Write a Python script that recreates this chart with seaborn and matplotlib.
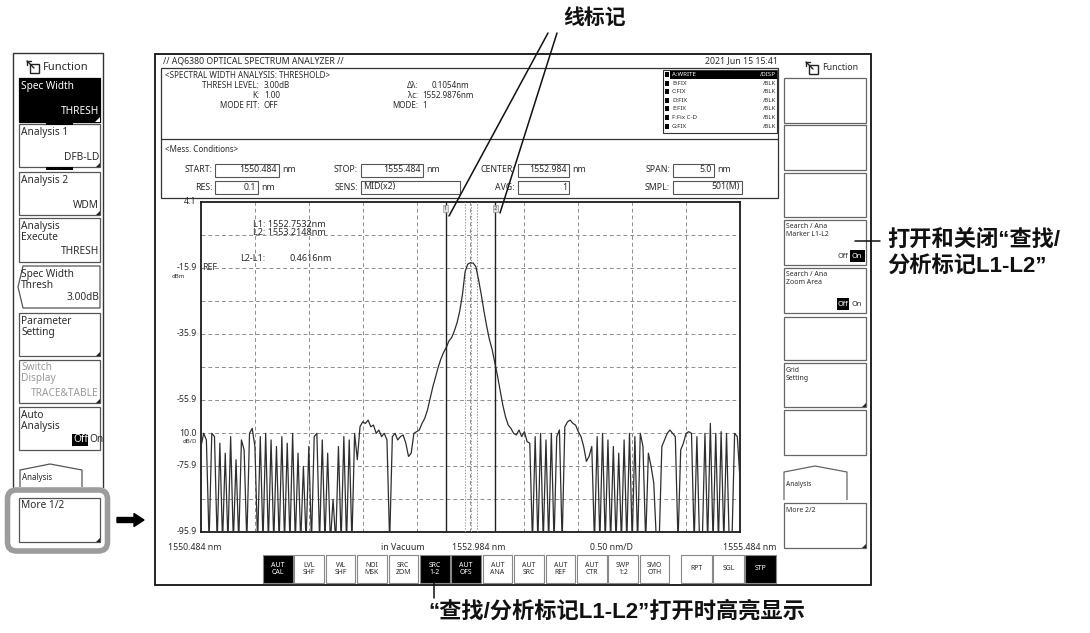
import numpy as np
import pandas as pd
import seaborn as sns
import matplotlib.pyplot as plt
from matplotlib.patches import Rectangle, Polygon, FancyBboxPatch, FancyArrow

sns.set_style("white")
plt.rcParams['font.family'] = ['Noto Sans', 'DejaVu Sans']
CJK = ['Liberation Sans', 'Noto Sans CJK SC', 'DejaVu Sans']

# ---- trace data (0.025 nm sampling) ----
wl_start = 1550.484
wl_stop = 1555.484
level_dbm = [
    -70, -66, -68, -99, -66, -67, -99, -69, -99, -72,
    -99, -67, -99, -74, -99, -68, -71, -99, -66, -64.5,
    -70, -99, -67, -99, -66, -99, -68, -99, -70, -99,
    -67, -99, -69, -99, -66, -99, -72, -99, -76, -99,
    -70, -99, -67, -66, -99, -68, -99, -72, -99, -86,
    -99, -70, -99, -67, -99, -68, -99, -66, -74, -64,
    -62.5, -63, -62, -64, -63.5, -66, -65, -67, -66, -68,
    -99, -67, -66, -68, -67, -66.5, -69, -73, -72, -66,
    -65.5, -65, -63, -61.5, -59, -55.5, -52, -49, -46, -43.5,
    -41.5, -40, -38, -37, -35, -32.5, -29, -24, -17, -14.7,
    -14.3, -14.4, -15.5, -19.5, -24, -29, -33.5, -37.5, -40.5, -44.5,
    -48.5, -53, -57.5, -61, -63.5, -64.5, -66, -66.5, -65, -67,
    -65.5, -68.5, -69, -99, -67, -99, -66, -99, -68, -99,
    -66, -99, -67, -65, -99, -64, -62.5, -62, -63, -63.5,
    -65.5, -67, -70, -74.5, -73, -70, -99, -67, -99, -66,
    -99, -68, -99, -70, -99, -72, -99, -68, -99, -66,
    -99, -67, -99, -66, -70, -99, -72, -76, -81, -99,
    -99, -70, -68, -66, -65, -66, -67, -99, -71, -69,
    -66, -65.5, -66, -99, -67, -99, -99, -66, -99, -63,
    -99, -66, -99, -65.5, -99, -66, -99, -99, -66, -67,
    -80,
]
top_level = 4.1
bottom_level = -95.9
y_labels = [4.1, -15.9, -35.9, -55.9, -75.9, -95.9]
ref_level = -15.9
l1_nm = 1552.7532
l2_nm = 1553.2148
peak_nm = 1552.9876
width_nm = 0.1054

left_keys = ["Spec Width", "Analysis 1", "Analysis 2", "Analysis\nExecute",
             "Spec Width\nThresh", "Parameter\nSetting", "Switch\nDisplay",
             "Auto\nAnalysis", "More 1/2"]
left_values = ["THRESH", "DFB-LD", "WDM", "THRESH", "3.00dB", "", "TRACE&TABLE", "", ""]
right_keys = ["", "", "", "Search / Ana\nMarker L1-L2", "Search / Ana\nZoom Area",
              "", "Grid\nSetting", "", "More 2/2"]
bottom_keys = ["AUT\nCAL", "LVL\nSHF", "WL\nSHF", "NOI\nMSK", "SRC\nZOM", "SRC\n1-2",
               "AUT\nOFS", "AUT\nANA", "AUT\nSRC", "AUT\nREF", "AUT\nCTR", "SWP\n1:2",
               "SMO\nOTH"]
bottom_on = ["AUT\nCAL", "SRC\n1-2", "AUT\nOFS"]
sweep_keys = ["RPT", "SGL", "STP"]
trace_rows = [("A:WRITE", "/DISP"), ("B:FIX", "/BLK"), ("C:FIX", "/BLK"), ("D:FIX", "/BLK"),
              ("E:FIX", "/BLK"), ("F:Fix C-D", "/BLK"), ("G:FIX", "/BLK")]

wl = np.linspace(wl_start, wl_stop, len(level_dbm))
df = pd.DataFrame({"wl": wl, "level": level_dbm})

fig = plt.figure(figsize=(10.9, 6.33), dpi=100)
ui = fig.add_axes([0, 0, 1, 1])
ui.set_xlim(0, 1090)
ui.set_ylim(633, 0)
ui.axis('off')
ui.set_zorder(3)

TXT = '#2b2b2b'


def rect(x0, y0, x1, y1, fc='white', ec='#555', lw=0.9, z=2):
    ui.add_patch(Rectangle((x0, y0), x1 - x0, y1 - y0, facecolor=fc, edgecolor=ec, linewidth=lw, zorder=z))


def txt(x, y, s, size=6, ha='left', color=TXT, **kw):
    ui.text(x, y, s, fontsize=size, ha=ha, va='center', color=color, zorder=5, **kw)


def corner(x1, y1, s=4, color='#222'):
    ui.add_patch(Polygon([(x1 - s, y1), (x1, y1), (x1, y1 - s)], closed=True, color=color, lw=0, zorder=4))


def func_header(x, y, size):
    ui.add_patch(Rectangle((x + 3, y - 3), 9, 9, fill=False, ec='#222', lw=1.0, zorder=4))
    ui.plot([x, x + 7], [y - 6, y + 1], color='#222', lw=1.0, zorder=4)
    ui.plot([x, x + 3.5], [y - 6, y - 6], color='#222', lw=1.0, zorder=4)
    ui.plot([x, x], [y - 6, y - 2.5], color='#222', lw=1.0, zorder=4)
    txt(x + 16, y, "Function", size=size)


# ---------------- left soft-key panel ----------------
ui.plot([13, 13, 103, 103], [487, 53, 53, 487], color='#333', lw=1.0)
func_header(27, 67, 8)
left_y = [(78, 122), (124, 167), (172, 215), (218, 262), (266, 308), (313, 356),
          (360, 403), (407, 450), (498, 542)]
for i, (key, val) in enumerate(zip(left_keys, left_values)):
    y0, y1 = left_y[i]
    fg = TXT
    if i == 0:
        rect(19, y0, 100, y1, fc='black', ec='black')
        corner(100, y1, 5, 'white')
        fg = 'white'
    elif i == 4:
        ui.add_patch(Polygon([(23, y0), (100, y0), (100, y1), (23, y1), (18, (y0 + y1) / 2)],
                             closed=True, fc='white', ec='#555', lw=0.9, zorder=2))
    else:
        rect(19, y0, 100, y1)
    if i == 6:
        fg = '#9a9a9a'
    if i in (1, 2, 5, 6, 8):
        corner(100, y1, 4)
    for j, line in enumerate(key.split("\n")):
        txt(21, y0 + 8 + 11 * j, line, size=7.3, color=fg)
    if val:
        txt(99, y1 - 10, val, size=7.3, ha='right', color=fg)
# little tab bars between keys
rect(46, 121, 73, 124.5, fc='black', ec='black', lw=0)
rect(46, 167, 73, 170, fc='black', ec='black', lw=0)
# Off / On toggle
rect(72, 434, 88, 446, fc='black', ec='black', lw=0, z=4)
txt(73, 440, "Off", size=7.3, color='white')
txt(89, 440, "On", size=7.3)
# Analysis tab
ui.add_patch(Polygon([(20, 487), (20, 470), (50, 464), (82, 470), (82, 487)], closed=False,
                     fill=False, ec='#555', lw=0.9, zorder=2))
txt(22, 478, "Analysis", size=5.8)
# highlight frame + arrow
ui.add_patch(FancyBboxPatch((7.5, 490), 100, 61, boxstyle="round,pad=0,rounding_size=9",
                            fc='none', ec='#9c9c9c', lw=4, zorder=3))
ui.add_patch(FancyArrow(117, 520, 27, 0, width=5, head_width=13, head_length=10,
                        length_includes_head=True, color='black', zorder=4))

# ---------------- instrument screen ----------------
rect(155, 54, 871, 585, fc='white', ec='#111', lw=1.3, z=1)
txt(163, 61, "// AQ6380 OPTICAL SPECTRUM ANALYZER //", size=6.3)
txt(778, 61, "2021 Jun 15 15:41", size=6.3, ha='right')
rect(161, 68, 778, 198, fc='white', ec='#333', lw=0.9)
ui.plot([161, 778], [139, 139], color='#333', lw=0.9, zorder=3)
txt(165, 75, "<SPECTRAL WIDTH ANALYSIS: THRESHOLD>", size=5.8)
txt(259, 85, "THRESH LEVEL:", size=5.8, ha='right')
txt(264, 85, "3.00dB", size=5.8)
txt(259, 95, "K:", size=5.8, ha='right')
txt(264, 95, "1.00", size=5.8)
txt(259, 105, "MODE FIT:", size=5.8, ha='right')
txt(263, 105, "OFF", size=5.8)
txt(418, 85, "Δλ:", size=5.8, ha='right')
txt(432, 85, "0.1054nm", size=5.8)
txt(418, 95, "λc:", size=5.8, ha='right')
txt(422, 95, f"{peak_nm:.4f}nm", size=5.8)
txt(418, 105, "MODE:", size=5.8, ha='right')
txt(422, 105, "1", size=5.8)
# trace list
rect(663, 70, 777, 133, fc='white', ec='#333', lw=0.8)
for k, (a, b) in enumerate(trace_rows):
    yy = 74.5 + 8.6 * k
    if k == 0:
        rect(670, yy - 4, 777, yy + 4, fc='black', ec='black', lw=0, z=3)
    rect(665, yy - 2.5, 669, yy + 2.5, fc='black', ec='black', lw=0, z=4)
    col = 'white' if k == 0 else TXT
    txt(672, yy, a, size=4.4, color=col)
    txt(776, yy, b, size=4.4, ha='right', color=col)
# measurement conditions
txt(165, 150, "<Mess. Conditions>", size=5.8)
cond = [
    (170, 213, "START:", 215, 279, "1550.484", "nm"),
    (170, 358, "STOP:", 361, 423, "1555.484", "nm"),
    (170, 515, "CENTER:", 518, 569, "1552.984", "nm"),
    (170, 670, "SPAN:", 673, 714, "5.0", "nm"),
    (187, 213, "RES:", 215, 258, "0.1", "nm"),
    (187, 358, "SENS:", 361, 460, "MID(x2)", ""),
    (187, 515, "AVG:", 518, 569, "1", ""),
    (187, 670, "SMPL:", 673, 742, "501(M)", ""),
]
for yy, xl, lab, b0, b1, v, unit in cond:
    txt(xl, yy, lab, size=6.3, ha='right')
    rect(b0, yy - 6.5, b1, yy + 6.5, fc='white', ec='#555', lw=0.8, z=3)
    if lab == "SENS:":
        txt(b0 + 2, yy, v, size=6.3)
    else:
        txt(b1 - 2, yy, v, size=6.3, ha='right')
    if unit:
        txt(b1 + 3, yy, unit, size=6.3)

# ---------------- right soft-key panel ----------------
func_header(806, 68, 6.3)
right_y = [(78, 123), (125, 170), (173, 217), (220, 265), (268, 313), (317, 360),
           (363, 407), (410, 455), (503, 548)]
for i, key in enumerate(right_keys):
    y0, y1 = right_y[i]
    rect(784, y0, 866, y1, ec='#666', lw=0.9)
    for j, line in enumerate(key.split("\n") if key else []):
        txt(786, y0 + 7 + 8 * j, line, size=5)
    if i in (6, 8):
        corner(866, y1, 4)
    if i == 3:
        txt(838, y1 - 9, "Off", size=5.3)
        rect(850, y1 - 15, 865, y1 - 3, fc='black', ec='black', lw=0, z=4)
        txt(851, y1 - 9, "On", size=5.3, color='white')
    if i == 4:
        rect(837, y1 - 15, 849, y1 - 3, fc='black', ec='black', lw=0, z=4)
        txt(838, y1 - 9, "Off", size=5.3, color='white')
        txt(851, y1 - 9, "On", size=5.3)
ui.add_patch(Polygon([(784, 500), (784, 472), (815, 466), (847, 472), (847, 500)], closed=False,
                     fill=False, ec='#666', lw=0.9, zorder=2))
txt(786, 484, "Analysis", size=4.8)

# ---------------- bottom key bar ----------------
for i, key in enumerate(bottom_keys):
    x0 = 263 + 31.4 * i
    on = key in bottom_on
    rect(x0, 555, x0 + 29.5, 583, fc='black' if on else 'white', ec='#888', lw=0.8)
    ui.text(x0 + 14.75, 569, key, fontsize=5, ha='center', va='center', linespacing=0.95,
            color='white' if on else TXT, zorder=5)
for i, key in enumerate(sweep_keys):
    x0 = 681 + 32 * i
    on = key == "STP"
    rect(x0, 555, x0 + 31, 583, fc='black' if on else 'white', ec='#888', lw=0.8)
    txt(x0 + 15.5, 569, key, size=5, ha='center', color='white' if on else TXT)

# ---------------- spectrum trace ----------------
ax = fig.add_axes([201 / 1090, (633 - 532) / 633, 539 / 1090, 330 / 633])
ax.set_zorder(4)
ax.patch.set_visible(False)
sns.lineplot(data=df, x="wl", y="level", ax=ax, color='#2e2e2e', lw=0.9, estimator=None, zorder=4)
ax.set_xlim(wl_start, wl_stop)
ax.set_ylim(bottom_level, top_level)
ax.set_xticks(np.linspace(wl_start, wl_stop, 11)[1:-1])
ax.set_yticks(np.arange(bottom_level + 10, top_level, 10))
ax.tick_params(length=0, labelbottom=False, labelleft=False)
ax.set_xlabel("")
ax.set_ylabel("")
ax.grid(True, color='#8e8e8e', ls=(0, (4, 3)), lw=0.7)
for s in ax.spines.values():
    s.set_color('#1a1a1a')
    s.set_linewidth(1.3)
for w in (peak_nm - width_nm / 2, peak_nm, peak_nm + width_nm / 2):
    ax.axvline(w, color='#9a9a9a', ls=(0, (1.5, 1.5)), lw=0.7, zorder=3)
for w, tag in ((l1_nm, "1"), (l2_nm, "2")):
    ax.axvline(w, color='#222', lw=1.0, zorder=5)
    ax.text(w, top_level - 1.2, tag, fontsize=4, ha='center', va='top', color='#444',
            bbox=dict(boxstyle='square,pad=0.15', fc='#dddddd', ec='#888', lw=0.4), zorder=6)
ax.text(0.097, 0.933, f"L1: {l1_nm:.4f}nm", transform=ax.transAxes, fontsize=6.5, color=TXT, va='center')
ax.text(0.097, 0.908, f"L2: {l2_nm:.4f}nm", transform=ax.transAxes, fontsize=6.5, color=TXT, va='center')
ax.text(0.072, 0.830, "L2-L1:", transform=ax.transAxes, fontsize=6.5, color=TXT, va='center')
ax.text(0.165, 0.830, f"{l2_nm - l1_nm:.4f}nm", transform=ax.transAxes, fontsize=6.5, color=TXT,
        va='center')

# axis labels
yt = ax.get_yaxis_transform()
for v in y_labels:
    ax.text(-0.008, v, f"{v:.1f}", transform=yt, fontsize=6.3, ha='right', va='center', color=TXT)
ax.text(0.003, ref_level, "REF", transform=yt, fontsize=6.3, ha='left', va='center', color=TXT)
ax.text(-0.03, ref_level - 2.6, "dBm", transform=yt, fontsize=4.3, ha='right', va='center', color=TXT)
ax.text(-0.008, ref_level - 50, "10.0", transform=yt, fontsize=6.3, ha='right', va='center', color=TXT)
ax.text(-0.008, ref_level - 52.6, "dB/D", transform=yt, fontsize=4.3, ha='right', va='center',
        color=TXT)
txt(168, 547, f"{wl_start:.3f} nm", size=6.3)
txt(381, 547, "in Vacuum", size=6.3)
txt(452, 547, f"{(wl_start + wl_stop) / 2:.3f} nm", size=6.3)
txt(590, 547, f"{(wl_stop - wl_start) / 10:.2f} nm/D", size=6.3)
txt(776, 547, f"{wl_stop:.3f} nm", size=6.3, ha='right')

# ---------------- callouts ----------------
ui.text(595, 18, "线标记", fontsize=15, fontweight='bold', family=CJK, ha='center', va='center',
        color='#111', zorder=6)
ui.plot([548, 449], [33, 216], color='#111', lw=1.1, zorder=6)
ui.plot([557, 500], [33, 213], color='#111', lw=1.1, zorder=6)
ui.plot([855, 880], [241, 241], color='#111', lw=1.1, zorder=6)
ui.text(887, 240, "打开和关闭“查找/", fontsize=16, fontweight='bold', family=CJK, ha='left',
        va='center', color='#111', zorder=6)
ui.text(887, 267, "分析标记L1-L2”", fontsize=16, fontweight='bold', family=CJK, ha='left',
        va='center', color='#111', zorder=6)
ui.plot([434, 434], [583, 598], color='#111', lw=1.1, zorder=6)
ui.text(428, 612, "“查找/分析标记L1-L2”打开时高亮显示", fontsize=16, fontweight='bold', family=CJK,
        ha='left', va='center', color='#111', zorder=6)

fig.savefig("out.png", dpi=100)
